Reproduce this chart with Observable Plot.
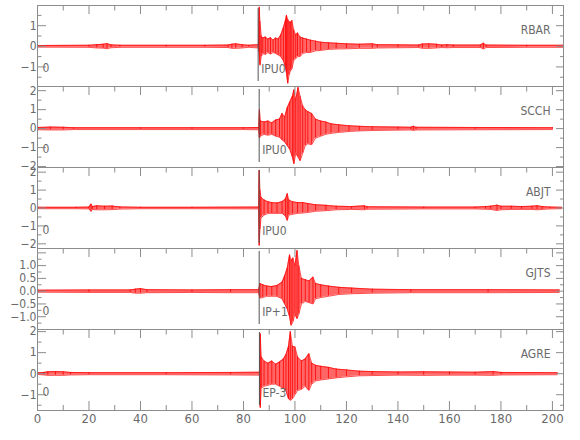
<!DOCTYPE html>
<html><head><meta charset="utf-8">
<script src="https://cdn.jsdelivr.net/npm/d3@7"></script>
<script src="https://cdn.jsdelivr.net/npm/@observablehq/plot@0.6"></script>
<style>
body{margin:0;background:#fff;}
#chart{position:relative;width:580px;height:440px;overflow:hidden;background:#fff;}
.panel{position:absolute;left:0;}
</style></head><body><div id="chart"></div>
<script>
// ---- data ----
const stations = ["RBAR", "SCCH", "ABJT", "GJTS", "AGRE"];
const phases = ["IPU0", "IPU0", "IPU0", "IP+1", "EP-3"];
const channelLabels = ["0", "0", "0", "0", "0"];
const pickTimes = [85.7, 86.1, 86.1, 86.1, 86.2];
const xDomain = [0, 204.3];
const xMajor = [0, 20, 40, 60, 80, 100, 120, 140, 160, 180, 200];
const xMinor = [10, 30, 50, 70, 90, 110, 130, 150, 170, 190];
const yDomains = [[-1.95, 1.98], [-2.05, 2.22], [-2.26, 2.26], [-1.5, 1.67], [-1.75, 2.1]];
const yMajor = [[-1, 0, 1], [-2, -1, 0, 1, 2], [-2, -1, 0, 1, 2], [-1, -0.5, 0, 0.5, 1, 1.5], [-1, 0, 1, 2]];
const yMinor = [[-1.5, -0.5, 0.5, 1.5], [-1.5, -0.5, 0.5, 1.5], [-1.5, -0.5, 0.5, 1.5], [-1.25, -0.75, -0.25, 0.25, 0.75, 1.25], [-1.5, -0.5, 0.5, 1.5]];
const yLabels = [[-1, 0, 1], [-2, -1, 0, 1, 2], [-2, -1, 0, 1, 2], [-1, -0.5, 0, 0.5, 1], [-1, 0, 1, 2]];

// waveform envelopes: [time s, upper, lower]
const rbar = [[0.3,.04,-.04],[20,.05,-.05],[23,.08,-.08],[25.5,.1,-.09],[27,.13,-.12],[28.5,.07,-.07],[32,.05,-.05],[50,.05,-.05],[65,.05,-.05],[74,.06,-.06],[75.5,.1,-.1],[77,.12,-.1],[79.5,.08,-.08],[82,.05,-.05],[85.8,.08,-.08],[86.1,1.9,-0.3],[86.4,1.2,-0.92],[86.9,0.5,-0.5],[87.5,0.4,-0.35],[88.5,0.45,-0.4],[89.5,0.35,-0.3],[90.5,0.42,-0.38],[91.5,0.3,-0.3],[92.5,0.4,-0.35],[93.5,0.35,-0.42],[94.5,0.55,-0.5],[95.5,0.9,-0.7],[96.3,1.25,-1.0],[96.7,1.5,-1.3],[97.2,1.3,-1.8],[97.7,1.2,-1.4],[98.2,1.15,-1.2],[98.8,1.25,-1.1],[99.5,0.8,-0.7],[100.3,0.55,-0.6],[101,0.65,-0.5],[102,0.45,-0.5],[103,0.4,-0.35],[104.5,0.35,-0.3],[106,0.3,-0.3],[108,0.25,-0.22],[110,0.2,-0.2],[113,0.17,-0.15],[116,0.15,-0.13],[120,0.12,-0.12],[125,0.1,-0.1],[130,0.12,-0.1],[132,0.08,-0.08],[140,0.07,-0.07],[148,.06,-.06],[149.5,.11,-.1],[152,.12,-.1],[155,.1,-.08],[157,.06,-.06],[159,.08,-.07],[161.5,.06,-.06],[172,.06,-.06],[173.2,.15,-.13],[174.2,.06,-.06],[190,.05,-.05],[204.3,.05,-.05]];
const scch = [[0.3,.06,-.06],[5,.08,-.07],[10,.07,-.07],[14,.05,-.05],[40,.05,-.05],[60,.05,-.05],[80,.05,-.05],[85.9,.06,-.06],[86.2,1.0,-0.5],[86.6,0.4,-0.4],[88,0.35,-0.3],[89.5,0.4,-0.35],[91,0.3,-0.3],[92.5,0.45,-0.4],[94,0.5,-0.45],[95,0.8,-0.6],[96,0.6,-0.7],[97,1.1,-0.9],[98,1.4,-1.1],[99,1.7,-1.5],[99.6,2.05,-1.86],[100.3,1.5,-1.3],[101.2,2.17,-1.5],[102,1.7,-1.7],[103,1.2,-1.3],[104,1.0,-0.9],[105,0.9,-0.8],[106.5,0.8,-0.85],[108,0.5,-0.5],[110,0.4,-0.4],[112,0.35,-0.3],[114,0.25,-0.25],[117,0.2,-0.2],[121,0.15,-0.15],[125,0.12,-0.12],[130,0.1,-0.1],[140,0.08,-0.08],[145,0.07,-0.07],[146,0.12,-0.1],[147,0.07,-0.07],[170,0.06,-0.06],[200,0.05,-0.05]];
const abjt = [[0.3,.04,-.04],[15,.04,-.04],[20,.05,-.05],[20.8,.22,-.2],[21.3,.08,-.08],[23,.12,-.1],[26,.1,-.1],[29,.11,-.09],[32,.06,-.06],[40,.04,-.04],[60,.04,-.04],[85.9,.05,-.05],[86.1,2.1,-2.1],[86.4,1.0,-1.2],[86.8,0.6,-0.55],[88,0.45,-0.4],[89.5,0.35,-0.3],[91,0.3,-0.3],[93,0.28,-0.3],[95,0.35,-0.3],[96.3,0.5,-0.45],[97,0.8,-0.7],[97.6,0.45,-0.4],[99,0.35,-0.35],[101,0.3,-0.3],[103,0.3,-0.28],[105,0.25,-0.25],[108,0.18,-0.18],[112,0.15,-0.15],[116,0.1,-0.1],[122,0.08,-0.08],[127,0.12,-0.1],[128,0.07,-0.07],[150,0.05,-0.05],[170,0.05,-0.05],[174,0.08,-0.07],[176,0.1,-0.08],[178.5,0.16,-0.14],[180,0.1,-0.1],[184,0.1,-0.08],[188,0.08,-0.08],[192,0.1,-0.08],[194,0.13,-0.1],[196,0.08,-0.08],[199,0.05,-0.05],[203.5,0.04,-0.04]];
const gjts = [[0.3,.04,-.04],[20,.05,-.05],[36,.05,-.05],[38,.08,-.08],[40,.1,-.08],[42.5,.06,-.06],[60,.05,-.05],[75,.06,-.06],[85.9,.06,-.06],[86.4,0.3,-0.27],[87.5,0.25,-0.25],[89,0.2,-0.2],[91,0.18,-0.2],[93,0.22,-0.2],[95,0.35,-0.3],[96,0.6,-0.5],[97,0.9,-0.7],[97.9,1.42,-1.0],[98.5,1.2,-1.34],[99.2,1.3,-1.2],[100,1.0,-0.9],[100.8,1.59,-1.08],[101.5,1.0,-0.9],[102.5,0.5,-0.5],[104,0.45,-0.4],[105.5,0.4,-0.45],[107,0.55,-0.5],[108,0.3,-0.3],[110,0.25,-0.25],[113,0.2,-0.2],[117,0.15,-0.13],[122,0.12,-0.1],[130,0.08,-0.08],[145,0.06,-0.06],[175,0.06,-0.06],[202.6,0.05,-0.05]];
const agre = [[0.3,.04,-.04],[2.5,.06,-.06],[4,.09,-.08],[7,.1,-.08],[10,.09,-.08],[12.8,.06,-.06],[20,.05,-.05],[50,.05,-.05],[75,.06,-.06],[86.2,.07,-.07],[86.5,1.9,-1.62],[86.9,0.8,-0.7],[88,0.6,-0.6],[89.5,0.5,-0.55],[91,0.6,-0.5],[92.5,0.45,-0.5],[94,0.55,-0.6],[95.5,0.7,-0.7],[96.5,0.9,-0.8],[97.5,1.3,-1.2],[98.2,2.0,-1.27],[99,1.3,-1.2],[100,1.27,-1.0],[101,0.8,-0.8],[102.5,0.6,-0.75],[104,0.7,-0.6],[105.4,0.95,-0.8],[106.5,0.5,-0.5],[108,0.4,-0.35],[110,0.35,-0.3],[113,0.3,-0.25],[116,0.22,-0.2],[120,0.18,-0.15],[125,0.12,-0.1],[130,0.1,-0.09],[140,0.08,-0.07],[150,0.09,-0.08],[160,0.08,-0.07],[170,0.07,-0.07],[177,0.1,-0.08],[180,0.06,-0.06],[201.8,0.05,-0.05]];
const traces = [rbar, scch, abjt, gjts, agre];

// ---- styling / layout ----
const RED = "#ff0000", GRID = "#8c8c8c", TEXT = "#6a6a6a";
const FONT = '"Liberation Sans Narrow", "DejaVu Sans Condensed", "Liberation Sans", sans-serif';
const top0 = 5, panelH = 81, mL = 37, mR = 17, bottomAxis = 30;
const blank = () => "";

const container = document.getElementById("chart");
traces.forEach((wave, i) => {
  const last = i === traces.length - 1;
  const fmt = i === 3 ? d3.format(".1f") : d3.format("d");
  const marks = [
    Plot.areaY(wave, {x: d => d[0], y1: d => d[2], y2: d => d[1], fill: RED, fillOpacity: 0.6}),
    Plot.ruleX(wave, {x: d => d[0], y1: d => d[2], y2: d => d[1], stroke: RED, strokeWidth: 0.8}),
    Plot.line(wave, {x: d => d[0], y: d => d[1], stroke: RED, strokeWidth: 0.7}),
    Plot.line(wave, {x: d => d[0], y: d => d[2], stroke: RED, strokeWidth: 0.7}),
    Plot.ruleX([pickTimes[i]], {stroke: "#555", strokeWidth: 1, insetTop: 3, insetBottom: 5}),
    Plot.frame({stroke: GRID}),
    Plot.axisY(yMajor[i], {anchor: "left", tickSize: -9, tickFormat: blank, stroke: GRID, label: null}),
    Plot.axisY(yMinor[i], {anchor: "left", tickSize: -4.5, tickFormat: blank, stroke: GRID, label: null}),
    Plot.axisY(yMajor[i], {anchor: "right", tickSize: -8, tickFormat: blank, stroke: GRID, label: null}),
    Plot.axisY(yMinor[i], {anchor: "right", tickSize: -4, tickFormat: blank, stroke: GRID, label: null}),
    Plot.axisY(yLabels[i], {anchor: "left", tickSize: 0, tickPadding: 1, tickFormat: fmt, fill: TEXT, fontSize: 12, label: null}),
    Plot.axisX(xMajor, {anchor: "top", tickSize: -8, tickFormat: blank, stroke: GRID, label: null}),
    Plot.axisX(xMinor, {anchor: "top", tickSize: -4.5, tickFormat: blank, stroke: GRID, label: null}),
    Plot.text([stations[i]], {frameAnchor: "top-right", dx: -13, dy: 20, textAnchor: "end", fill: TEXT, fontSize: 12, text: d => d}),
    Plot.text([channelLabels[i]], {frameAnchor: "bottom-left", dx: 5, dy: -15, textAnchor: "start", fill: TEXT, fontSize: 12, text: d => d}),
    Plot.text([pickTimes[i]], {x: d => d, frameAnchor: "bottom", dx: 3, dy: -14, textAnchor: "start", fill: TEXT, fontSize: 12, text: () => phases[i]})
  ];
  if (last) {
    marks.push(
      Plot.axisX(xMajor, {anchor: "bottom", tickSize: -9, tickFormat: blank, stroke: GRID, label: null}),
      Plot.axisX(xMinor, {anchor: "bottom", tickSize: -5, tickFormat: blank, stroke: GRID, label: null}),
      Plot.axisX(xMajor, {anchor: "bottom", tickSize: 0, tickPadding: 3, tickFormat: d3.format("d"), fill: TEXT, fontSize: 13, label: null})
    );
  }
  const svg = Plot.plot({
    width: 580,
    height: panelH + (last ? bottomAxis : 0),
    marginLeft: mL, marginRight: mR, marginTop: 0, marginBottom: last ? bottomAxis : 0,
    x: {domain: xDomain},
    y: {domain: yDomains[i]},
    style: {overflow: "visible", background: "transparent", fontFamily: FONT, color: TEXT},
    marks
  });
  const div = document.createElement("div");
  div.className = "panel";
  div.style.top = (top0 + panelH * i) + "px";
  div.appendChild(svg);
  container.appendChild(div);
});
</script>
</body></html>
